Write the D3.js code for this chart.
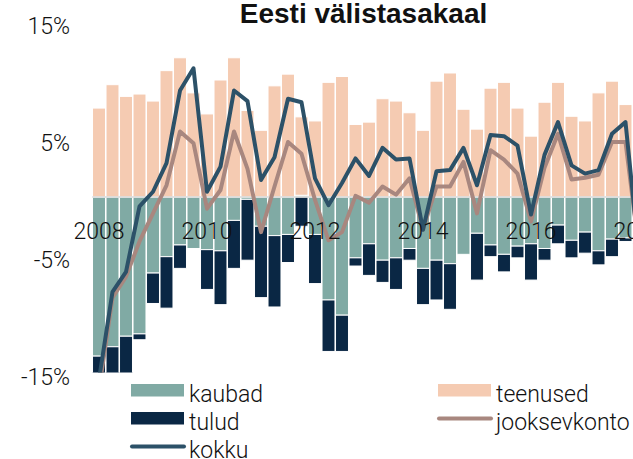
<!DOCTYPE html>
<html>
<head>
<meta charset="utf-8">
<script src="https://cdn.jsdelivr.net/npm/d3@7"></script>
<style>
body { margin: 0; background: #fff; }
text { font-family: Roboto, "Liberation Sans", sans-serif; font-weight: 300; fill: #111; }
</style>
</head>
<body>
<svg id="chart" width="633" height="459"></svg>
<script>
// quarters 2008Q1 .. 2018Q1 (last one is cut off at the right edge)
var quarters = ['2008Q1','2008Q2','2008Q3','2008Q4','2009Q1','2009Q2','2009Q3','2009Q4',
                '2010Q1','2010Q2','2010Q3','2010Q4','2011Q1','2011Q2','2011Q3','2011Q4',
                '2012Q1','2012Q2','2012Q3','2012Q4','2013Q1','2013Q2','2013Q3','2013Q4',
                '2014Q1','2014Q2','2014Q3','2014Q4','2015Q1','2015Q2','2015Q3','2015Q4',
                '2016Q1','2016Q2','2016Q3','2016Q4','2017Q1','2017Q2','2017Q3','2017Q4',
                '2018Q1'];

// % of GDP
var kaubad   = [-13.6,-12.8,-11.9,-11.7,-6.5,-5.1,-4.1,-4.4,
                -4.5,-4.6,-2.0,-0.2,-2.5,-3.3,-3.2,0.15,
                -3.2,-8.8,-10.1,-5.2,-4.0,-5.4,-5.2,-4.4,
                -6.1,-5.4,-5.7,-4.9,-3.1,-4.1,-4.9,-4.2,
                -4.0,-4.4,-2.4,-3.7,-3.0,-4.6,-3.6,-3.5,
                -4.0];
var teenused = [7.6,9.6,8.6,8.8,8.2,10.8,11.9,8.9,
                7.1,10.0,11.9,7.4,5.7,9.5,10.5,6.7,
                6.5,9.8,10.3,6.2,6.4,8.4,8.2,7.2,
                5.7,9.9,10.6,7.5,5.8,9.3,9.8,7.6,
                5.2,8.1,9.8,6.9,6.5,8.9,9.9,7.9,
                6.5];
var tulud    = [-2.5,-3.0,-3.5,-0.5,-2.6,-4.4,-2.0,0,
                -3.4,-4.6,-4.1,-5.2,-6.1,-6.1,-2.4,-2.5,
                -4.2,-4.4,-3.1,-0.7,-2.7,-1.9,-2.7,-1.0,
                -3.1,-3.4,-3.9,0,-4.0,-1.0,-1.5,-1.0,
                -3.1,-1.0,-1.6,-1.5,-1.8,-1.2,-1.5,-0.3,
                -1.0];
var jooksevkonto = [-16.5,-8.6,-6.8,-3.8,-1.4,1.0,5.6,4.6,
                    -1.0,0.6,5.6,2.4,-3.0,0.9,4.7,3.7,
                    -0.25,-3.7,-3.0,0.1,-0.5,0.9,0.2,1.6,
                    -2.8,0.9,0.9,3.0,-1.4,4.0,3.2,2.0,
                    -2.1,2.5,5.4,1.5,1.65,1.9,4.7,4.7,
                    -4.5];
var kokku    = [-15.6,-8.1,-6.4,-0.8,0.45,2.9,9.1,11.0,
                0.45,2.6,9.1,8.2,1.45,3.4,8.4,8.1,
                1.6,-0.7,1.2,3.3,1.8,4.2,3.2,3.3,
                -2.8,2.2,2.3,4.2,1.0,5.3,5.2,4.4,
                -1.5,3.6,6.4,2.7,2.0,2.3,5.4,6.4,
                -5.0];

var yTicks = [15, 5, -5, -15];
var yTickLabels = ['15%', '5%', '-5%', '-15%'];
var xTicks = ['2008Q1','2010Q1','2012Q1','2014Q1','2016Q1','2018Q1'];
var xTickLabels = ['2008','2010','2012','2014','2016','2018'];

var title = 'Eesti välistasakaal';

var colors = {
    kaubad: '#80aaa4',
    teenused: '#f5cbb2',
    tulud: '#0a2744',
    jooksevkonto: '#a8877f',
    kokku: '#2c5168'
};

var svg = d3.select('#chart');

var step = 13.5;
var x = d3.scaleBand()
    .domain(quarters)
    .range([92.25, 92.25 + quarters.length * step])
    .paddingInner(0.04)
    .paddingOuter(0.02);
var y = d3.scaleLinear().domain([-15, 15]).range([372.5, 21.5]);

// table for the stack
var rows = [];
for (var i = 0; i < quarters.length; i++)
    rows.push({q: quarters[i], kaubad: kaubad[i], teenused: teenused[i], tulud: tulud[i]});

var series = d3.stack()
    .keys(['kaubad', 'teenused', 'tulud'])
    .offset(d3.stackOffsetDiverging)(rows);

svg.append('defs').append('clipPath').attr('id', 'plot')
    .append('rect')
    .attr('x', 80).attr('y', y(15))
    .attr('width', 600).attr('height', y(-15) - y(15));

var plot = svg.append('g').attr('clip-path', 'url(#plot)');

// bars
plot.selectAll('g.layer')
    .data(series)
    .join('g')
    .attr('class', 'layer')
    .attr('fill', function(s) { return colors[s.key]; })
    .selectAll('rect')
    .data(function(s) { return s; })
    .join('rect')
    .attr('x', function(d) { return x(d.data.q); })
    .attr('width', x.bandwidth())
    .attr('y', function(d) { return y(Math.max(d[0], d[1])); })
    .attr('height', function(d) { return Math.abs(y(d[0]) - y(d[1])); })
    .attr('stroke', '#fff')
    .attr('stroke-width', 1);

// zero line
plot.append('line')
    .attr('x1', x.range()[0]).attr('x2', 633)
    .attr('y1', y(0)).attr('y2', y(0))
    .attr('stroke', '#d8d8d8')
    .attr('stroke-width', 1.5);

// x axis labels (no line, no ticks)
var xAxis = svg.append('g')
    .attr('transform', 'translate(0,' + y(0) + ')')
    .call(d3.axisBottom(x)
        .tickValues(xTicks)
        .tickSize(0)
        .tickPadding(26)
        .tickFormat(function(d, i) { return xTickLabels[i]; }));
xAxis.select('.domain').remove();
xAxis.selectAll('text')
    .attr('fill', '#111')
    .style('font-family', 'Roboto, "Liberation Sans", sans-serif')
    .style('font-weight', 300)
    .style('font-size', '23px');

// y axis labels
var yAxis = svg.append('g')
    .attr('transform', 'translate(70,0)')
    .call(d3.axisLeft(y)
        .tickValues(yTicks)
        .tickSize(0)
        .tickPadding(0)
        .tickFormat(function(d, i) { return yTickLabels[i]; }));
yAxis.select('.domain').remove();
yAxis.selectAll('text')
    .attr('dy', 11.7)
    .attr('fill', '#111')
    .style('font-family', 'Roboto, "Liberation Sans", sans-serif')
    .style('font-weight', 300)
    .style('font-size', '23px');

// lines
var lineGen = function(vals) {
    return d3.line()
        .x(function(d, i) { return x(quarters[i]) + x.bandwidth() / 2; })
        .y(function(d) { return y(d); })(vals);
};
plot.append('path')
    .attr('d', lineGen(jooksevkonto))
    .attr('fill', 'none')
    .attr('stroke', colors.jooksevkonto)
    .attr('stroke-width', 4)
    .attr('stroke-linejoin', 'round');
plot.append('path')
    .attr('d', lineGen(kokku))
    .attr('fill', 'none')
    .attr('stroke', colors.kokku)
    .attr('stroke-width', 4)
    .attr('stroke-linejoin', 'round');

// title
svg.append('text')
    .attr('x', 363.5)
    .attr('y', 23)
    .attr('text-anchor', 'middle')
    .style('font-family', '"Liberation Sans", Arial, sans-serif')
    .style('font-weight', 700)
    .style('font-size', '28px')
    .text(title);

// legend
var legendItems = [
    {key: 'kaubad', type: 'rect', col: 0, row: 0},
    {key: 'teenused', type: 'rect', col: 1, row: 0},
    {key: 'tulud', type: 'rect', col: 0, row: 1},
    {key: 'jooksevkonto', type: 'line', col: 1, row: 1},
    {key: 'kokku', type: 'line', col: 0, row: 2}
];
var legend = svg.append('g');
for (var i = 0; i < legendItems.length; i++)
{
    var it = legendItems[i];
    var lx = 131 + it.col * 307;
    var ly = 402 + it.row * 28;
    if (it.type == 'rect')
        legend.append('rect')
            .attr('x', lx).attr('y', ly - 18)
            .attr('width', 53).attr('height', 12.5)
            .attr('fill', colors[it.key]);
    else
        legend.append('line')
            .attr('x1', lx + 1).attr('x2', lx + 53)
            .attr('y1', ly - 11.5).attr('y2', ly - 11.5)
            .attr('stroke', colors[it.key])
            .attr('stroke-width', 4)
            .attr('stroke-linecap', 'round');
    legend.append('text')
        .attr('x', lx + 58)
        .attr('y', ly)
        .style('font-size', '23px')
        .text(it.key);
}
</script>
</body>
</html>
